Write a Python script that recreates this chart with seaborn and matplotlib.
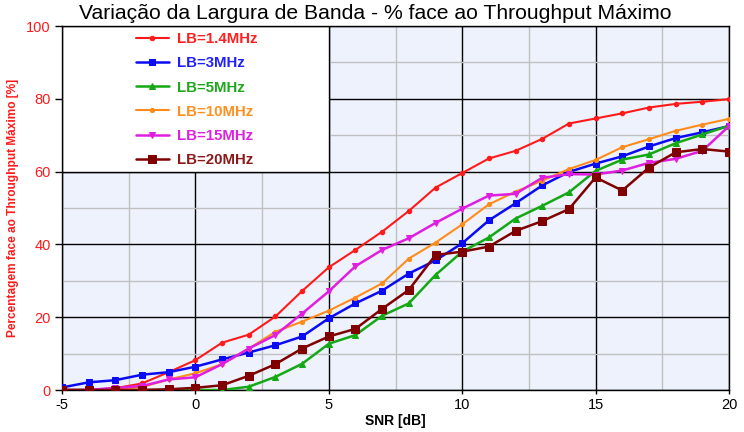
import matplotlib
matplotlib.use("Agg")
import matplotlib.pyplot as plt
from matplotlib.patches import Rectangle
from matplotlib.ticker import MultipleLocator
import seaborn as sns
import pandas as pd

snr = list(range(-5, 21))

lb_1_4 = [0, 0, 0.5, 1.8, 4.9, 8.2, 13.0, 15.2, 20.2, 27.2, 33.7, 38.5, 43.5, 49.2, 55.6, 59.6,
          63.6, 65.7, 69.0, 73.2, 74.6, 76.0, 77.6, 78.6, 79.2, 79.9]
lb_3 = [0.7, 2.1, 2.7, 4.2, 4.9, 6.4, 8.4, 10.3, 12.3, 14.7, 19.7, 23.8, 27.3, 32.0, 35.6, 40.3,
        46.6, 51.3, 56.2, 59.9, 62.2, 64.2, 66.9, 69.2, 70.8, 72.5]
lb_5 = [0, 0, 0, 0, 0, 0, 0, 0.9, 3.6, 7.2, 12.7, 15.1, 20.4, 23.8, 31.6, 38.0,
        41.9, 47.1, 50.6, 54.3, 60.2, 63.3, 64.7, 67.8, 70.2, 72.6]
lb_10 = [0, 0, 0.2, 0.8, 2.9, 4.6, 7.1, 11.4, 16.0, 18.8, 21.8, 25.4, 29.3, 36.1, 40.5, 45.5,
         51.0, 54.5, 57.5, 60.7, 63.2, 66.7, 68.9, 71.2, 72.9, 74.5]
lb_15 = [0, 0, 0.6, 1.1, 2.9, 3.5, 7.1, 11.4, 15.1, 21.0, 27.1, 34.0, 38.5, 41.7, 45.9, 49.8,
         53.4, 53.9, 58.3, 59.3, 59.2, 60.3, 62.4, 63.5, 65.7, 72.5]
lb_20 = [0, 0, 0, 0, 0.2, 0.6, 1.3, 3.9, 7.1, 11.4, 14.7, 16.8, 22.3, 27.5, 37.1, 38.0,
         39.4, 43.7, 46.4, 49.7, 58.4, 54.8, 61.1, 65.3, 66.2, 65.5]

labels = ["LB=1.4MHz", "LB=3MHz", "LB=5MHz", "LB=10MHz", "LB=15MHz", "LB=20MHz"]
series = [lb_1_4, lb_3, lb_5, lb_10, lb_15, lb_20]
colors = ["#FF1A1A", "#0A0AF5", "#14A814", "#FF8C1A", "#E01EE0", "#800000"]
text_colors = ["#FF2020", "#2020FF", "#1EA81E", "#FF9020", "#E020E0", "#8B1A1A"]
markers = ["o", "s", "^", "o", "v", "s"]
msizes = [3.2, 4.5, 4.2, 3.0, 4.2, 6.0]
lwidths = [1.5, 1.8, 1.8, 1.5, 1.8, 1.8]

sns.set_theme(style="white")
plt.rcParams['font.family'] = ['Liberation Sans', 'DejaVu Sans']
plt.rcParams['axes.unicode_minus'] = False

fig = plt.figure(figsize=(7.44, 4.32), dpi=100)
ax = fig.add_axes([62/744, 42/432, 667/744, 364/432])
ax.set_facecolor("#EEF2FD")

for lab, vals, c, m, ms, lw in zip(labels, series, colors, markers, msizes, lwidths):
    df = pd.DataFrame({"SNR": snr, "val": vals})
    sns.lineplot(data=df, x="SNR", y="val", ax=ax, color=c, marker=m, markersize=ms,
                 markeredgecolor=c, markerfacecolor=c, linewidth=lw, label=lab, zorder=3)

ax.set_xlim(-5, 20)
ax.set_ylim(0, 100)
ax.xaxis.set_major_locator(MultipleLocator(5))
ax.xaxis.set_minor_locator(MultipleLocator(2.5))
ax.yaxis.set_major_locator(MultipleLocator(20))
ax.yaxis.set_minor_locator(MultipleLocator(10))
ax.set_axisbelow(True)
ax.grid(which="major", color="black", linewidth=1.0)
ax.grid(which="minor", color="#C0C0C0", linewidth=1.0)

# white legend panel covering the upper-left grid cells
ax.add_patch(Rectangle((-5, 60), 10, 40, facecolor="white", edgecolor="black",
                       linewidth=1.0, zorder=1))

for s in ax.spines.values():
    s.set_color("black")
    s.set_linewidth(1.0)

ax.tick_params(axis="y", which="major", direction="out", length=5, width=1, color="black",
               labelcolor="#FF1A1A", labelsize=10.5, left=True, pad=3)
ax.tick_params(axis="x", which="major", direction="out", length=3, width=1, color="black",
               labelcolor="black", labelsize=10.5, bottom=True, pad=3)
ax.tick_params(which="minor", length=0)

ax.set_xlabel("SNR [dB]", fontsize=10, fontweight="bold", color="black", labelpad=1)
ax.set_ylabel("Percentagem face ao Throughput Máximo [%]", fontsize=8.6, fontweight="bold",
              color="#FF1A1A")
ax.yaxis.set_label_coords(-0.064, 0.5)

fig.suptitle("Variação da Largura de Banda - % face ao Throughput Máximo", fontsize=15.2,
             color="black", x=0.504, y=0.99)

leg = ax.legend(loc="upper left", bbox_to_anchor=(0.095, 1.012), frameon=False,
                prop={"weight": "bold", "size": 10.8}, handlelength=2.2, labelspacing=0.68,
                handletextpad=0.55, borderaxespad=0.3)
for t, c in zip(leg.get_texts(), text_colors):
    t.set_color(c)

fig.savefig("out.png", dpi=100, facecolor="white")
